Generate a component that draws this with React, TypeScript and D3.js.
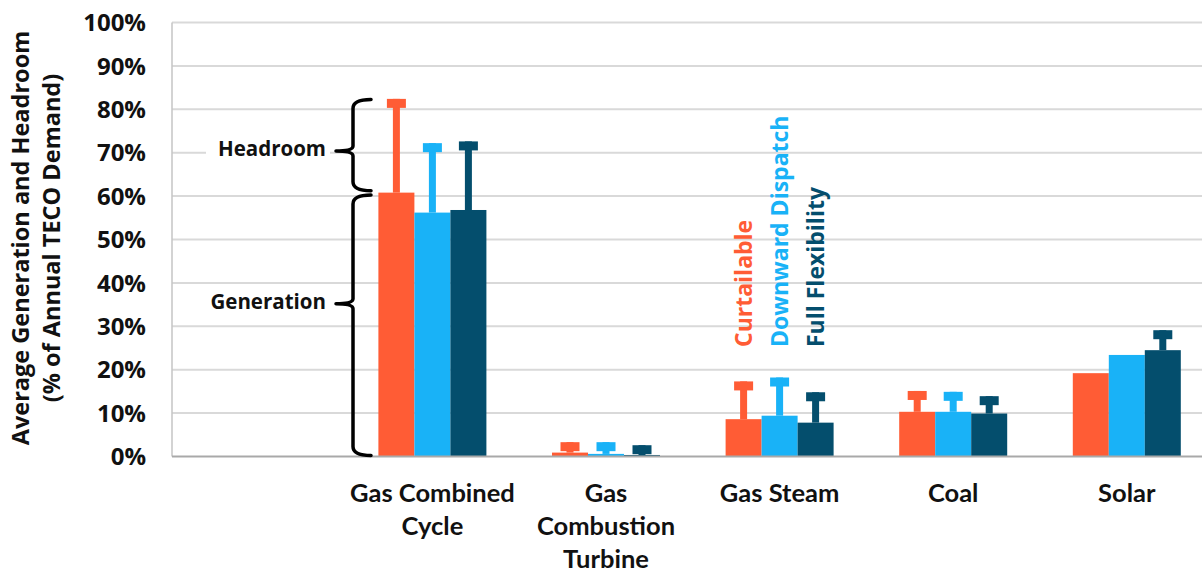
import React, { useEffect, useRef } from "react";
import * as d3 from "d3";

const categories = ["", "Gas Combined Cycle", "Gas Combustion Turbine", "Gas Steam", "Coal", "Solar"];
const categoryLines = [[], ["Gas Combined", "Cycle"], ["Gas", "Combustion", "Turbine"], ["Gas Steam"], ["Coal"], ["Solar"]];
const seriesNames = ["Curtailable", "Downward Dispatch", "Full Flexibility"];
const seriesColors = ["#FF5C35", "#19B2F7", "#044E6D"];

// average generation (% of annual demand)
const curtailableGen = [null, 60.8, 0.9, 8.6, 10.3, 19.2];
const downwardGen = [null, 56.2, 0.6, 9.4, 10.3, 23.4];
const fullGen = [null, 56.8, 0.35, 7.8, 9.9, 24.5];
// generation + headroom (top of error bar)
const curtailableTop = [null, 82.4, 3.3, 17.3, 15.1, null];
const downwardTop = [null, 72.2, 3.3, 18.2, 14.9, null];
const fullTop = [null, 72.6, 2.6, 14.8, 13.9, 29.1];

const yTicks = [0, 10, 20, 30, 40, 50, 60, 70, 80, 90, 100];
const braces = [
  { label: "Headroom", from: 61, to: 82, at: 70.4 },
  { label: "Generation", from: 0, to: 60, at: 35.2 },
];

const W = 1202;
const H = 573;

export default function App() {
  const ref = useRef<SVGSVGElement | null>(null);

  useEffect(() => {
    const svg = d3.select(ref.current);
    svg.selectAll("*").remove();

    const left = 172;
    const bandW = 173.6;
    const x = d3
      .scaleBand()
      .domain(categories)
      .range([left, left + bandW * categories.length])
      .padding(0);
    const inner = d3
      .scaleBand()
      .domain(seriesNames)
      .range([(bandW - 108) / 2, (bandW + 108) / 2])
      .padding(0);
    const y = d3.scaleLinear().domain([0, 100]).range([456.5, 22.5]);

    const sans = "'Open Sans', 'DejaVu Sans', sans-serif";

    // gridlines
    svg
      .append("g")
      .selectAll("line")
      .data(yTicks.filter((t) => t > 0))
      .enter()
      .append("line")
      .attr("x1", left)
      .attr("x2", W)
      .attr("y1", (d) => y(d))
      .attr("y2", (d) => y(d))
      .attr("stroke", "#d9d9d9")
      .attr("stroke-width", 2);

    // y axis line
    svg
      .append("line")
      .attr("x1", left)
      .attr("x2", left)
      .attr("y1", y(100))
      .attr("y2", y(0))
      .attr("stroke", "#c4c4c4")
      .attr("stroke-width", 1.5);

    // y tick labels
    svg
      .append("g")
      .selectAll("text")
      .data(yTicks)
      .enter()
      .append("text")
      .attr("x", 146)
      .attr("y", (d) => y(d))
      .attr("dy", "0.36em")
      .attr("text-anchor", "end")
      .style("font-family", sans)
      .style("font-weight", 700)
      .style("font-size", "24px")
      .attr("fill", "#111")
      .text((d) => `${d}%`);

    // y title
    const yt = svg
      .append("text")
      .attr("transform", `translate(0,238) rotate(-90)`)
      .attr("text-anchor", "middle")
      .style("font-family", sans)
      .style("font-weight", 700)
      .style("font-size", "23.5px")
      .attr("fill", "#111");
    yt.append("tspan").attr("x", 0).attr("y", 29).text("Average Generation and Headroom");
    yt.append("tspan").attr("x", 0).attr("y", 60).text("(% of Annual TECO Demand)");

    // bars and headroom error bars
    const gens = [curtailableGen, downwardGen, fullGen];
    const tops = [curtailableTop, downwardTop, fullTop];
    seriesNames.forEach((name, si) => {
      const rows = categories.map((c, i) => ({ c, gen: gens[si][i], top: tops[si][i] }));
      const g = svg.append("g").attr("fill", seriesColors[si]);
      const bx = (d: any) => (x(d.c) ?? 0) + (inner(name) ?? 0);
      const bw = inner.bandwidth();

      g.selectAll(".stem")
        .data(rows.filter((d) => d.top != null))
        .enter()
        .append("rect")
        .attr("x", (d) => bx(d) + bw / 2 - 3.5)
        .attr("width", 7)
        .attr("y", (d) => y(d.top as number))
        .attr("height", (d) => y(d.gen as number) - y(d.top as number));

      g.selectAll(".cap")
        .data(rows.filter((d) => d.top != null))
        .enter()
        .append("rect")
        .attr("x", (d) => bx(d) + bw / 2 - 9.5)
        .attr("width", 19)
        .attr("y", (d) => y(d.top as number))
        .attr("height", 9);

      g.selectAll(".bar")
        .data(rows.filter((d) => d.gen != null))
        .enter()
        .append("rect")
        .attr("x", bx)
        .attr("width", bw)
        .attr("y", (d) => y(d.gen as number))
        .attr("height", (d) => y(0) - y(d.gen as number));
    });

    // baseline
    svg
      .append("line")
      .attr("x1", left)
      .attr("x2", W)
      .attr("y1", y(0))
      .attr("y2", y(0))
      .attr("stroke", "#a9a9a9")
      .attr("stroke-width", 2);

    // category labels
    const xl = svg
      .append("g")
      .style("font-family", "Lato, 'Open Sans', sans-serif")
      .style("font-weight", 700)
      .style("font-size", "25.5px")
      .attr("fill", "#111")
      .attr("text-anchor", "middle");
    categories.forEach((c, i) => {
      const cx = (x(c) ?? 0) + x.bandwidth() / 2;
      categoryLines[i].forEach((line, li) => {
        xl.append("text").attr("x", cx).attr("y", 502 + li * 33).text(line);
      });
    });

    // series labels (rotated, above Gas Steam)
    const gsx = x("Gas Steam") ?? 0;
    seriesNames.forEach((name, si) => {
      const cx = gsx + (inner(name) ?? 0) + inner.bandwidth() / 2 + 8.5;
      svg
        .append("text")
        .attr("transform", `translate(${cx},347) rotate(-90)`)
        .style("font-family", sans)
        .style("font-weight", 700)
        .style("font-size", "23px")
        .attr("fill", seriesColors[si])
        .text(name);
    });

    // braces
    const tipX = 371;
    const spineX = 353;
    const pointX = 336;
    const r = 9;
    braces.forEach((b) => {
      const y1 = y(b.to) - 1;
      const y2 = y(b.from) - 1;
      const ym = y(b.at);
      const p = d3.path();
      p.moveTo(tipX, y1);
      p.quadraticCurveTo(spineX, y1, spineX, y1 + r);
      p.lineTo(spineX, ym - 5);
      p.quadraticCurveTo(spineX, ym, pointX, ym);
      p.quadraticCurveTo(spineX, ym, spineX, ym + 5);
      p.lineTo(spineX, y2 - r);
      p.quadraticCurveTo(spineX, y2, tipX, y2);
      svg
        .append("path")
        .attr("d", p.toString())
        .attr("fill", "none")
        .attr("stroke", "#000")
        .attr("stroke-width", 3.5)
        .attr("stroke-linecap", "round")
        .attr("stroke-linejoin", "round");

      svg
        .append("rect")
        .attr("x", 206)
        .attr("y", ym - 14)
        .attr("width", 124)
        .attr("height", 26)
        .attr("fill", "#fff");
      svg
        .append("text")
        .attr("x", 326)
        .attr("y", ym + 5)
        .attr("text-anchor", "end")
        .style("font-family", sans)
        .style("font-weight", 700)
        .style("font-size", "20.5px")
        .attr("fill", "#111")
        .text(b.label);
    });
  }, []);

  return (
    <svg
      ref={ref}
      width={W}
      height={H}
      style={{ position: "absolute", left: 0, top: 0, background: "#fff" }}
    ></svg>
  );
}
